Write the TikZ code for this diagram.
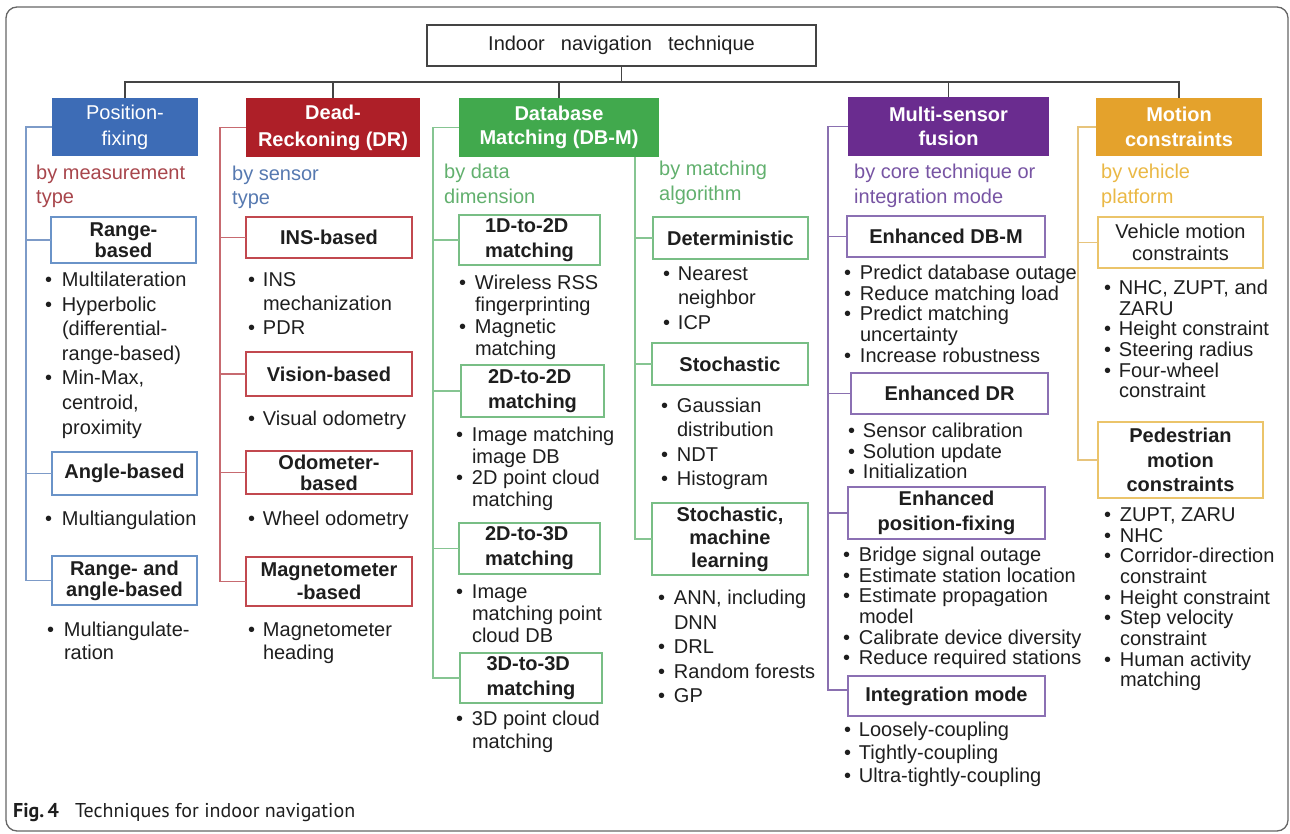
\documentclass[tikz,border=0pt]{standalone}
\usepackage{fontspec}
\setmainfont{Liberation Sans}
\newfontfamily\capfont{PT Sans}

% palette
\definecolor{ink}{HTML}{1E1E1E}
\definecolor{trunkc}{HTML}{444444}
\definecolor{framec}{HTML}{666666}
\definecolor{pfblue}{HTML}{3D6CB6}
\definecolor{drred}{HTML}{AE1F28}
\definecolor{dbgreen}{HTML}{41A94D}
\definecolor{mspurple}{HTML}{6A2C8F}
\definecolor{mcorange}{HTML}{E4A22C}
\definecolor{subA}{HTML}{A8464C}
\definecolor{subB}{HTML}{5679B0}
\definecolor{subC}{HTML}{62B06E}
\definecolor{subD}{HTML}{7754A3}
\definecolor{subE}{HTML}{EAB845}
\definecolor{bdA}{HTML}{6A93C8}
\definecolor{bdB}{HTML}{C2484F}
\definecolor{bdC}{HTML}{78BE85}
\definecolor{bdD}{HTML}{8B70B3}
\definecolor{bdE}{HTML}{EBC46A}
\definecolor{lnA}{HTML}{7D9BC8}
\definecolor{lnB}{HTML}{C76A70}
\definecolor{lnC}{HTML}{86C592}
\definecolor{lnD}{HTML}{8A70B0}
\definecolor{lnE}{HTML}{E7C47C}

% bullet list: #1 = width of the bullet column, #2 = rows
\newcommand{\blst}[2]{\begin{tabular}[t]{@{}p{#1}@{}l@{}}#2\end{tabular}}
\newcommand{\bt}{\textbullet}

\tikzset{
  sz/.style 2 args={minimum width=#1, minimum height=#2},
  catbox/.style={fill=#1, draw=none, text=white, align=center, inner sep=1pt, outer sep=0pt,
    font=\bfseries\fontsize{20}{25}\selectfont},
  subbox/.style={draw=#1, line width=1.4pt, fill=white, text=ink, align=center, inner sep=1pt,
    outer sep=0pt, font=\bfseries\fontsize{20}{22}\selectfont},
  % two-line captions under each family: placed by the baseline of their last line
  subtitle/.style={anchor=base west, inner sep=0pt, align=left, text=#1,
    font=\fontsize{20}{24.5}\selectfont},
  blist/.style={anchor=base west, inner sep=0pt, outer sep=0pt, text=ink,
    font=\fontsize{20}{#1}\selectfont},
  trunk/.style={draw=trunkc, line width=1.8pt},
  link/.style={draw=#1, line width=1.3pt},
}

\begin{document}
\begin{tikzpicture}[x=1pt,y=-1pt]
\useasboundingbox (0,0) rectangle (1290,834);

% outer frame
\draw[framec, line width=1.3pt, rounded corners=11pt] (6,7) rectangle (1288,831);

% root and the five technique families
\node[draw=trunkc, line width=1.4pt, sz={389pt}{41pt}, inner sep=0pt, text=ink,
  font=\fontsize{20}{24}\selectfont] (root) at (621.5,45.5)
  {Indoor\hspace{16pt}navigation\hspace{16pt}technique};

\node[catbox=pfblue, sz={146pt}{58pt}, font=\fontsize{20}{26}\selectfont] (pf) at (125,127) {Position-\\fixing};
\node[catbox=drred, sz={174pt}{59pt}, font=\bfseries\fontsize{20}{27}\selectfont] (dr) at (333,127.5) {Dead-\\Reckoning (DR)};
\node[catbox=dbgreen, sz={200pt}{59pt}, font=\bfseries\fontsize{20}{23.5}\selectfont] (dbm) at (559,127.5) {Database\\Matching (DB-M)};
\node[catbox=mspurple, sz={201pt}{59pt}, font=\bfseries\fontsize{20}{24}\selectfont] (ms) at (948.5,126.5) {Multi-sensor\\fusion};
\node[catbox=mcorange, sz={166pt}{58pt}] (mc) at (1179,127) {Motion\\constraints};

\coordinate (busy) at (0,82);
\coordinate (hub) at (root.south |- busy);
\draw[trunk] (root.south) -- (hub);
\draw[trunk] (hub) -| (pf.north);
\draw[trunk] (hub) -| (dr.north);
\draw[trunk] (hub) -| (dbm.north);
\draw[trunk] (hub) -| (ms.north);
\draw[trunk] (hub) -| (mc.north);

% ---------- Position-fixing ----------
\node[subtitle=subA] (tA) at (36,204) {by measurement\\type};
\node[subbox=bdA, sz={145pt}{46pt}, font=\bfseries\fontsize{20}{21}\selectfont] (rb) at (123.5,240) {Range-\\based};
\node[subbox=bdA, sz={145pt}{43pt}] (ab) at (124.5,473.5) {Angle-based};
\node[subbox=bdA, sz={145pt}{49pt}, font=\bfseries\fontsize{20}{21}\selectfont] (rab) at (124.5,580.5) {Range- and\\angle-based};
\coordinate (spA) at (26,0);
\draw[link=lnA] (pf.west) -| (spA |- rab.west) -- (rab.west);
\draw[link=lnA] (spA |- rb.west) -- (rb.west);
\draw[link=lnA] (spA |- ab.west) -- (ab.west);

\node[blist=24.6] (lA1) at (45,286.5) {\blst{17pt}{\bt & Multilateration\\ \bt & Hyperbolic\\ & (differential-\\ & range-based)\\ \bt & Min-Max,\\ & centroid,\\ & proximity}};
\node[blist=24] (lA2) at (45,525.5) {\blst{17pt}{\bt & Multiangulation}};
\node[blist=23] (lA3) at (47,636.5) {\blst{17pt}{\bt & Multiangulate-\\ & ration}};

% ---------- Dead-Reckoning ----------
\node[subtitle=subB] (tB) at (232,205) {by sensor\\type};
\node[subbox=bdB, sz={166pt}{41pt}] (ins) at (329,237.5) {INS-based};
\node[subbox=bdB, sz={166pt}{44pt}] (vis) at (329,374) {Vision-based};
\node[subbox=bdB, sz={166pt}{43pt}, font=\bfseries\fontsize{20}{21}\selectfont] (odo) at (329,472.5) {Odometer-\\based};
\node[subbox=bdB, sz={166pt}{49pt}, font=\bfseries\fontsize{20}{23}\selectfont] (mag) at (329,581.5) {Magnetometer\\-based};
\coordinate (spB) at (220,0);
\draw[link=lnB] (dr.west) -| (spB |- mag.west) -- (mag.west);
\draw[link=lnB] (spB |- ins.west) -- (ins.west);
\draw[link=lnB] (spB |- vis.west) -- (vis.west);
\draw[link=lnB] (spB |- odo.west) -- (odo.west);

\node[blist=24] (lB1) at (248,286.5) {\blst{15pt}{\bt & INS\\ & mechanization\\ \bt & PDR}};
\node[blist=24] (lB2) at (248,425.5) {\blst{15pt}{\bt & Visual odometry}};
\node[blist=24] (lB3) at (248,525.5) {\blst{15pt}{\bt & Wheel odometry}};
\node[blist=23] (lB4) at (248,636.5) {\blst{15pt}{\bt & Magnetometer\\ & heading}};

% ---------- Database Matching: by data dimension ----------
\node[subtitle=subC] (tC) at (444,203.5) {by data\\dimension};
\node[subbox=bdC, sz={141pt}{50pt}, align=left, font=\bfseries\fontsize{20}{25}\selectfont] (d12) at (529.5,240) {1D-to-2D\\matching};
\node[subbox=bdC, sz={143pt}{52pt}, align=left, font=\bfseries\fontsize{20}{25}\selectfont] (d22) at (532.5,391) {2D-to-2D\\matching};
\node[subbox=bdC, sz={141pt}{51pt}, align=left, font=\bfseries\fontsize{20}{25}\selectfont] (d23) at (529.5,548.5) {2D-to-3D\\matching};
\node[subbox=bdC, sz={142pt}{50pt}, align=left, font=\bfseries\fontsize{20}{25}\selectfont] (d33) at (531,678) {3D-to-3D\\matching};
\coordinate (spC) at (433,0);
\draw[link=lnC] (dbm.west) -| (spC |- d33.west) -- (d33.west);
\draw[link=lnC] (spC |- d12.west) -- (d12.west);
\draw[link=lnC] (spC |- d22.west) -- (d22.west);
\draw[link=lnC] (spC |- d23.west) -- (d23.west);

\node[blist=22] (lC1) at (459,289.5) {\blst{16pt}{\bt & Wireless RSS\\ & fingerprinting\\ \bt & Magnetic\\ & matching}};
\node[blist=21.7] (lC2) at (456,441.5) {\blst{16pt}{\bt & Image matching\\ & image DB\\ \bt & 2D point cloud\\ & matching}};
\node[blist=22] (lC3) at (456,598.5) {\blst{16pt}{\bt & Image\\ & matching point\\ & cloud DB}};
\node[blist=23] (lC4) at (456,725) {\blst{16pt}{\bt & 3D point cloud\\ & matching}};

% ---------- Database Matching: by matching algorithm ----------
\node[subtitle=subC] (tC2) at (659,200.5) {by matching\\algorithm};
\node[subbox=bdC, sz={155pt}{42pt}] (det) at (730.5,238) {Deterministic};
\node[subbox=bdC, sz={156pt}{42pt}] (sto) at (730,364) {Stochastic};
\node[subbox=bdC, sz={156pt}{72pt}, font=\bfseries\fontsize{20}{23}\selectfont] (sml) at (730,539) {Stochastic,\\machine\\learning};
\coordinate (spC2) at (635,0);
\draw[link=lnC] (dbm.south -| spC2) |- (sml.west);
\draw[link=lnC] (spC2 |- det.west) -- (det.west);
\draw[link=lnC] (spC2 |- sto.west) -- (sto.west);

\node[blist=24.5] (lC5) at (663,280.5) {\blst{15pt}{\bt & Nearest\\ & neighbor\\ \bt & ICP}};
\node[blist=24.3] (lC6) at (661,412.5) {\blst{16pt}{\bt & Gaussian\\ & distribution\\ \bt & NDT\\ \bt & Histogram}};
\node[blist=24.5] (lC7) at (658,604.5) {\blst{16pt}{\bt & ANN, including\\ & DNN\\ \bt & DRL\\ \bt & Random forests\\ \bt & GP}};

% ---------- Multi-sensor fusion ----------
\node[subtitle=subD] (tD) at (854,203.5) {by core technique or\\integration mode};
\node[subbox=bdD, sz={198pt}{41pt}] (edb) at (946,236.5) {Enhanced DB-M};
\node[subbox=bdD, sz={197pt}{41pt}] (edr) at (949.5,393.5) {Enhanced DR};
\node[subbox=bdD, sz={197pt}{52pt}, font=\bfseries\fontsize{20}{25}\selectfont] (epf) at (946.5,513) {Enhanced\\position-fixing};
\node[subbox=bdD, sz={197pt}{40pt}] (im) at (946.5,696) {Integration mode};
\coordinate (spD) at (828,0);
\coordinate (imj) at ([yshift=6pt]im.west);
\draw[link=lnD] (ms.west) -| (spD |- imj) -- (imj);
\draw[link=lnD] (spD |- edb.west) -- (edb.west);
\draw[link=lnD] (spD |- edr.west) -- (edr.west);
\draw[link=lnD] (spD |- epf.west) -- (epf.west);

\node[blist=20.5] (lD1) at (844,279.5) {\blst{16pt}{\bt & Predict database outage\\ \bt & Reduce matching load\\ \bt & Predict matching\\ & uncertainty\\ \bt & Increase robustness}};
\node[blist=20.5] (lD2) at (848,437.5) {\blst{15pt}{\bt & Sensor calibration\\ \bt & Solution update\\ \bt & Initialization}};
\node[blist=20.6] (lD3) at (843,561.5) {\blst{16pt}{\bt & Bridge signal outage\\ \bt & Estimate station location\\ \bt & Estimate propagation\\ & model\\ \bt & Calibrate device diversity\\ \bt & Reduce required stations}};
\node[blist=23] (lD4) at (844,736.5) {\blst{15pt}{\bt & Loosely-coupling\\ \bt & Tightly-coupling\\ \bt & Ultra-tightly-coupling}};

% ---------- Motion constraints ----------
\node[subtitle=subE] (tE) at (1101,203.5) {by vehicle\\platform};
\node[subbox=bdE, sz={165pt}{51pt}, font=\fontsize{20}{22}\selectfont] (vmc) at (1180.5,242.5) {Vehicle motion\\constraints};
\node[subbox=bdE, sz={165pt}{76pt}, font=\bfseries\fontsize{20}{24.5}\selectfont] (pmc) at (1180.5,460) {Pedestrian\\motion\\constraints};
\coordinate (spE) at (1078,0);
\draw[link=lnE] (mc.west) -| (spE |- pmc.west) -- (pmc.west);
\draw[link=lnE] (spE |- vmc.west) -- (vmc.west);

\node[blist=20.6] (lE1) at (1104,294.5) {\blst{15pt}{\bt & NHC, ZUPT, and\\ & ZARU\\ \bt & Height constraint\\ \bt & Steering radius\\ \bt & Four-wheel\\ & constraint}};
\node[blist=20.6] (lE2) at (1104,521.5) {\blst{16pt}{\bt & ZUPT, ZARU\\ \bt & NHC\\ \bt & Corridor-direction\\ & constraint\\ \bt & Height constraint\\ \bt & Step velocity\\ & constraint\\ \bt & Human activity\\ & matching}};

% caption
\node[anchor=base west, inner sep=0pt, text=ink, font=\capfont\fontsize{20}{23}\selectfont] (cap)
  at (13,817) {\textbf{Fig.\,4}\hspace{16pt}Techniques for indoor navigation};
\end{tikzpicture}
\end{document}
